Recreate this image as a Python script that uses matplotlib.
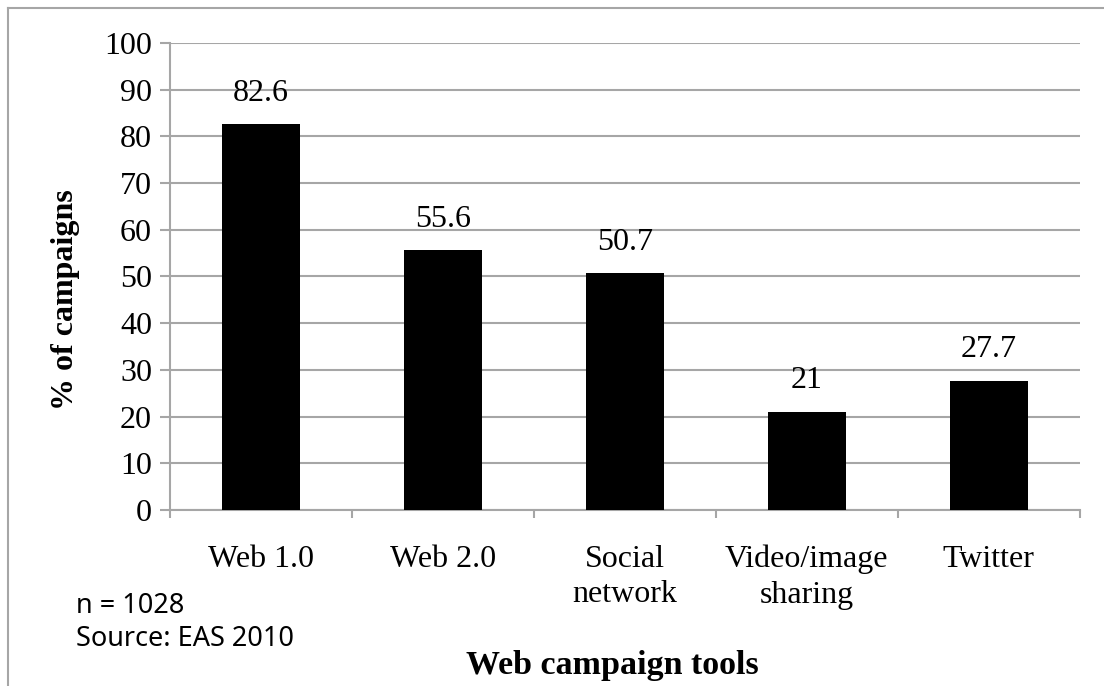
import matplotlib
matplotlib.use('Agg')
import matplotlib.pyplot as plt
from matplotlib.lines import Line2D
import numpy as np

categories = ["Web 1.0", "Web 2.0", "Social\nnetwork", "Video/image\nsharing", "Twitter"]
values = [82.6, 55.6, 50.7, 21, 27.7]
value_labels = ["82.6", "55.6", "50.7", "21", "27.7"]
y_ticks = [0, 10, 20, 30, 40, 50, 60, 70, 80, 90, 100]

plt.rcParams['font.family'] = ['Liberation Serif', 'DejaVu Serif']
grey = "#a6a6a6"

fig = plt.figure(figsize=(11.04, 6.86), dpi=100)
ax = fig.add_axes([0.154, 0.2566, 0.824, 0.6807])

x = np.arange(len(categories))
ax.bar(x, values, width=0.43, color="black", zorder=3)
for xi, v, lab in zip(x, values, value_labels):
    ax.annotate(lab, (xi, v), xytext=(0, 12), textcoords="offset points",
                ha="center", va="bottom", fontsize=23)

ax.set_xlim(-0.5, len(categories) - 0.5)
ax.set_ylim(0, 100)
ax.set_yticks(y_ticks)
ax.set_yticklabels([str(t) for t in y_ticks], fontsize=23)
ax.yaxis.grid(True, color=grey, linewidth=1.5, zorder=0)
ax.tick_params(axis="y", length=7, width=1.5, color=grey, pad=6)

ax.set_xticks(x)
ax.set_xticklabels(categories, fontsize=23, linespacing=1.3)
ax.tick_params(axis="x", which="major", length=0, pad=25)
ax.set_xticks(np.arange(-0.5, len(categories)), minor=True)
ax.tick_params(axis="x", which="minor", length=6, width=1.5, color=grey)

for s in ["top", "right"]:
    ax.spines[s].set_visible(False)
for s in ["left", "bottom"]:
    ax.spines[s].set_color(grey)
    ax.spines[s].set_linewidth(1.5)

ax.set_ylabel("% of campaigns", fontsize=23, fontweight="bold")
ax.yaxis.set_label_coords(-0.099, 0.45)
fig.text(0.555, 0.030, "Web campaign tools", fontsize=24.5, fontweight="bold",
         ha="center", va="center")

fig.text(0.069, 0.137, "n = 1028\nSource: EAS 2010", fontsize=19.5,
         family=["Noto Sans", "DejaVu Sans"], ha="left", va="top",
         linespacing=1.25)

# outer frame (top and left edges visible)
W, H = 1104, 686
fig.add_artist(Line2D([8 / W, 1], [1 - 8 / H, 1 - 8 / H], transform=fig.transFigure,
                      color=grey, linewidth=1.5))
fig.add_artist(Line2D([8 / W, 8 / W], [0, 1 - 8 / H], transform=fig.transFigure,
                      color=grey, linewidth=1.5))

plt.savefig("out.png", dpi=100)
